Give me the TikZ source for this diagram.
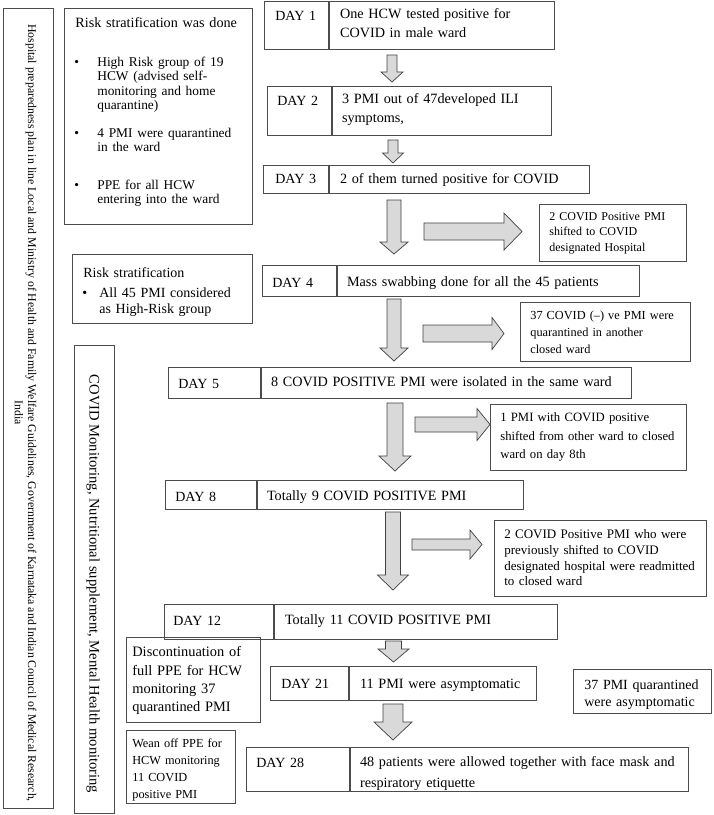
\documentclass[tikz,border=0pt]{standalone}
\usepackage{fontspec}
\setmainfont{Liberation Serif}

\newcommand{\setfs}[2]{\fontsize{#1pt}{#2pt}\selectfont}
\newcommand{\boxlines}[1]{\begin{tabular}[t]{@{}l@{}}#1\end{tabular}}
\newcommand{\blt}[1]{\makebox[#1][l]{\hspace*{-1pt}\textbullet}}
\newcommand{\bltind}[1]{\hspace*{#1}}
% block arrows: centre/start, head start, tip, axis, half shaft, half head
\newcommand{\blockdown}[6]{\draw[blockarrow] (#1-#5,#2) -- (#1+#5,#2) -- (#1+#5,#3) -- (#1+#6,#3) -- (#1,#4) -- (#1-#6,#3) -- (#1-#5,#3) -- cycle;}
\newcommand{\blockright}[6]{\draw[blockarrow] (#1,#4-#5) -- (#2,#4-#5) -- (#2,#4-#6) -- (#3,#4) -- (#2,#4+#6) -- (#2,#4+#5) -- (#1,#4+#5) -- cycle;}

\tikzset{
  box/.style={draw=black!70, line width=0.7pt, anchor=north west, inner ysep=0pt, align=left},
  daylbl/.style={box, font=\setfs{14}{17}},
  daytxt/.style={box, font=\setfs{14.2}{19}},
  sidebar/.style={draw=black!70, line width=0.7pt, inner sep=0pt},
  vtext/.style={rotate=-90, inner sep=0pt},
  blockarrow/.style={draw=black!75, fill=black!15, line width=0.7pt, line join=miter},
}

\begin{document}
\begin{tikzpicture}[x=1pt,y=-1pt]
\useasboundingbox (0,0) rectangle (714,815);

% left columns
\node[sidebar, minimum width=50pt, minimum height=800pt] (hosp) at (28,408) {};
\node[vtext, font=\setfs{11.8}{13.5}] (hospa) at (31,413)
  {Hospital preparedness plan in line Local and Ministry of Health and Family Welfare Guidelines, Government of Karnataka and Indian Council of Medical Research,};
\node[vtext, font=\setfs{11.8}{13.5}] (hospb) at (19,413) {India};
\node[sidebar, minimum width=40pt, minimum height=468pt] (monit) at (94,579) {};
\node[vtext, font=\setfs{14.6}{17}] (monitt) at (93,584)
  {COVID Monitoring, Nutritional supplement, Mental Health monitoring};

\node[box, font=\setfs{14.2}{14.5}, inner xsep=11pt, text width=166pt, text height=19pt, text depth=197pt] (risk1) at (64,8)
  {\boxlines{Risk stratification was done\\[24.5pt]
   \setfs{13.4}{14.5}\blt{22pt}High Risk group of 19\\
   \setfs{13.4}{14.5}\bltind{22pt}HCW (advised self-\\
   \setfs{13.4}{14.5}\bltind{22pt}monitoring and home\\
   \setfs{13.4}{14.5}\bltind{22pt}quarantine)\\[13pt]
   \setfs{13.4}{14.5}\blt{22pt}4 PMI were quarantined\\
   \setfs{13.4}{14.5}\bltind{22pt}in the ward\\[23pt]
   \setfs{13.4}{14.5}\blt{22pt}PPE for all HCW\\
   \setfs{13.4}{14.5}\bltind{22pt}entering into the ward}};
\node[box, font=\setfs{14}{16.5}, inner xsep=11pt, text width=158pt, text height=23pt, text depth=46pt] (risk2) at (72,254)
  {\boxlines{Risk stratification\\[3.5pt]
   \blt{16pt}All 45 PMI considered\\
   \bltind{16pt}as High-Risk group}};
\node[box, font=\setfs{14.4}{18.3}, inner xsep=6pt, text width=122pt, text height=19.5pt, text depth=65.5pt] (disc) at (126,637)
  {\boxlines{Discontinuation of\\full PPE for HCW\\monitoring 37\\quarantined PMI}};
\node[box, font=\setfs{12.3}{17}, inner xsep=6pt, text width=97pt, text height=17pt, text depth=56pt] (wean) at (126,730)
  {\boxlines{Wean off PPE for\\HCW monitoring\\11 COVID\\positive PMI}};

% day boxes
\node[daylbl, inner xsep=11pt, text width=42pt, text height=19pt, text depth=29pt] (d1) at (264,1) {DAY 1};
\node[daytxt, inner xsep=11pt, text width=203pt, text height=17.5pt, text depth=30.5pt] (c1) at (d1.north east)
  {\boxlines{One HCW tested positive for\\COVID in male ward}};

\node[daylbl, inner xsep=10pt, text width=44pt, text height=19pt, text depth=30pt] (d2) at (267,86) {DAY 2};
\node[daytxt, inner xsep=10pt, text width=199pt, text height=17.5pt, text depth=31.5pt] (c2) at (d2.north east)
  {\boxlines{3 PMI out of 47developed ILI\\symptoms,}};

\node[daylbl, inner xsep=12pt, text width=41pt, text height=18pt, text depth=10pt] (d3) at (263,165) {DAY 3};
\node[daytxt, inner xsep=11pt, text width=238pt, text height=18pt, text depth=10pt] (c3) at (d3.north east)
  {\boxlines{2 of them turned positive for COVID}};

\node[daylbl, inner xsep=10pt, text width=54pt, text height=22pt, text depth=9pt] (d4) at (262,265) {DAY 4};
\node[daytxt, inner xsep=10pt, text width=282pt, text height=21.5pt, text depth=9.5pt] (c4) at (d4.north east)
  {\boxlines{Mass swabbing done for all the 45 patients}};

\node[daylbl, inner xsep=10pt, text width=72pt, text height=21pt, text depth=10pt] (d5) at (168,367) {DAY 5};
\node[daytxt, inner xsep=10pt, text width=350pt, text height=19.5pt, text depth=11.5pt] (c5) at (d5.north east)
  {\boxlines{8 COVID POSITIVE PMI were isolated in the same ward}};

\node[daylbl, inner xsep=10pt, text width=71pt, text height=21pt, text depth=8pt] (d8) at (165,480) {DAY 8};
\node[daytxt, inner xsep=10pt, text width=246pt, text height=20pt, text depth=9pt] (c8) at (d8.north east)
  {\boxlines{Totally 9 COVID POSITIVE PMI}};

\node[daylbl, inner xsep=9pt, text width=91pt, text height=21pt, text depth=14pt] (d12) at (164,604) {DAY 12};
\node[daytxt, inner xsep=11pt, text width=261pt, text height=20.5pt, text depth=14.5pt] (c12) at (d12.north east)
  {\boxlines{Totally 11 COVID POSITIVE PMI}};

\node[daylbl, inner xsep=11pt, text width=56pt, text height=22pt, text depth=12pt] (d21) at (270,666) {DAY 21};
\node[daytxt, inner xsep=11pt, text width=165pt, text height=22pt, text depth=12pt] (c21) at (d21.north east)
  {\boxlines{11 PMI were asymptomatic}};

\node[daylbl, inner xsep=10pt, text width=83pt, text height=20pt, text depth=24pt] (d28) at (246,747) {DAY 28};
\node[daytxt, font=\setfs{14.2}{21}, inner xsep=10pt, text width=318pt, text height=19.5pt, text depth=24.5pt] (c28) at (d28.north east)
  {\boxlines{48 patients were allowed together with face mask and\\respiratory etiquette}};

% side boxes
\node[box, font=\setfs{12}{15.5}, inner xsep=10pt, text width=127pt, text height=16pt, text depth=41pt] (s3) at (539,204)
  {\boxlines{2 COVID Positive PMI\\shifted to COVID\\designated Hospital}};
\node[box, font=\setfs{12.3}{17}, inner xsep=10pt, text width=150pt, text height=17.5pt, text depth=41.5pt] (s4) at (520,302)
  {\boxlines{37 COVID (--) ve PMI were\\quarantined in another\\closed ward}};
\node[box, font=\setfs{12.7}{18.5}, inner xsep=10pt, text width=176pt, text height=17.5pt, text depth=48.5pt] (s5) at (490,404)
  {\boxlines{1 PMI with COVID positive\\shifted from other ward to closed\\ward on day 8th}};
\node[box, font=\setfs{13}{15.7}, inner xsep=10pt, text width=192pt, text height=18.5pt, text depth=57.5pt] (s8) at (494,520)
  {\boxlines{2 COVID Positive PMI who were\\previously shifted to COVID\\designated hospital were readmitted\\to closed ward}};
\node[box, font=\setfs{14}{17}, inner xsep=11pt, text width=116pt, text height=20pt, text depth=24pt] (s21) at (573,669)
  {\boxlines{37 PMI quarantined\\were asymptomatic}};

% down arrows
\blockdown{392}{55}{72}{82}{5}{11}
\blockdown{393}{140}{153}{163}{5}{10.5}
\blockdown{394}{200}{242}{254}{7}{14}
\blockdown{394}{299}{348}{361}{7}{14}
\blockdown{395}{403}{456}{471}{8}{16}
\blockdown{393}{512}{575}{590}{7.5}{15.5}
\blockdown{393.5}{641}{649}{662}{8}{15.5}
\blockdown{393}{704}{722}{740}{10}{19}

% side arrows
\blockright{424}{504}{522}{231.5}{8.5}{18.5}
\blockright{423}{492}{504}{333.5}{8.5}{16}
\blockright{415}{477}{490}{424.5}{7.5}{16}
\blockright{412}{470}{482}{544.5}{5.5}{14.5}
\end{tikzpicture}
\end{document}
